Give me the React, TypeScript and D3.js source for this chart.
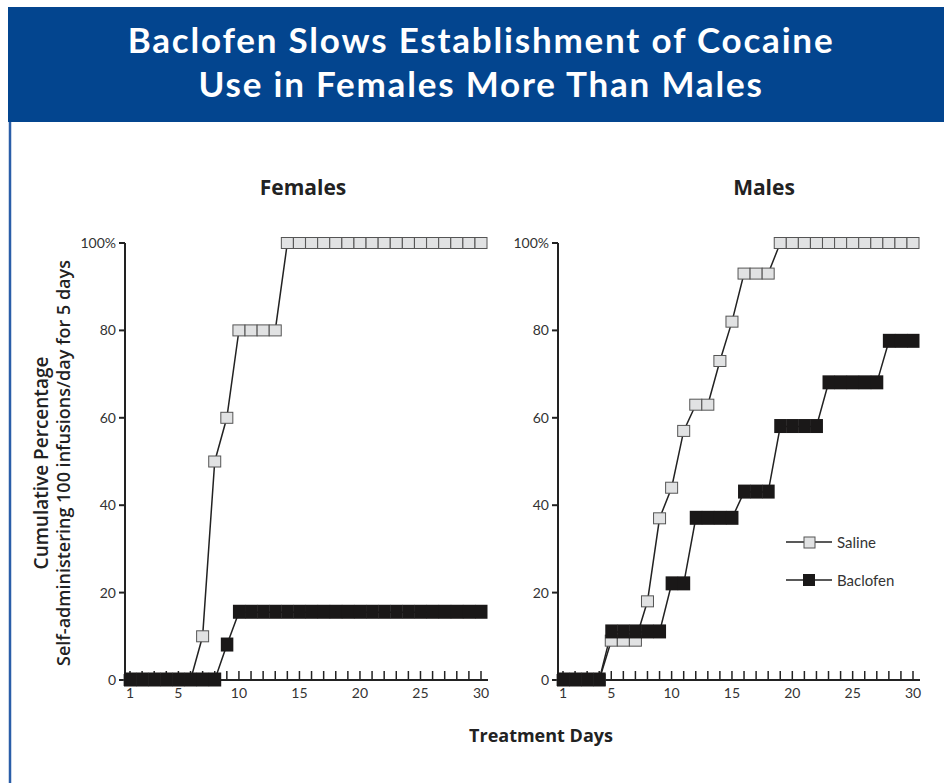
import React from "react";
import * as d3 from "d3";

const days = d3.range(1, 31);
const yTicks = [0, 20, 40, 60, 80, 100];
const yTickLabels = ["0", "20", "40", "60", "80", "100%"];
const xTickLabels = [1, 5, 10, 15, 20, 25, 30];

const femaleSaline = [0, 0, 0, 0, 0, 0, 10, 50, 60, 80, 80, 80, 80, 100, 100, 100, 100, 100, 100, 100, 100, 100, 100, 100, 100, 100, 100, 100, 100, 100];
const femaleBaclofen = [0, 0, 0, 0, 0, 0, 0, 0, 8, 15.5, 15.5, 15.5, 15.5, 15.5, 15.5, 15.5, 15.5, 15.5, 15.5, 15.5, 15.5, 15.5, 15.5, 15.5, 15.5, 15.5, 15.5, 15.5, 15.5, 15.5];
const maleSaline = [0, 0, 0, 0, 9, 9, 9, 18, 37, 44, 57, 63, 63, 73, 82, 93, 93, 93, 100, 100, 100, 100, 100, 100, 100, 100, 100, 100, 100, 100];
const maleBaclofen = [0, 0, 0, 0, 11, 11, 11, 11, 11, 22, 22, 37, 37, 37, 37, 43, 43, 43, 58, 58, 58, 58, 68, 68, 68, 68, 68, 77.5, 77.5, 77.5];

const FONT = "Lato, 'Open Sans', sans-serif";
const FONT2 = "'Open Sans', Lato, sans-serif";
const yScale = d3.scaleLinear().domain([0, 100]).range([680, 243]);

type PanelProps = { title: string; titleX: number; x0: number; x1: number; saline: number[]; baclofen: number[]; legend?: boolean };

function Panel({ title, titleX, x0, x1, saline, baclofen, legend }: PanelProps) {
  const x = d3.scaleLinear().domain([1, 30]).range([x0, x1]);
  const axisX = x0 - 5;
  const line = d3.line<number>().x((_, i) => x(days[i])).y((v) => yScale(v));
  const sq = 12;
  const sh = 11;
  const salineFill = "#e1e2e3";
  const dark = "#1a1818";
  return (
    <g>
      <text x={titleX} y={195} textAnchor="middle" fontFamily={FONT2} fontWeight={700} fontSize={21} fill="#222">{title}</text>
      <line x1={axisX} x2={axisX} y1={yScale(100)} y2={yScale(0) + 1} stroke="#222" strokeWidth={2} />
      {yTicks.map((t, i) => (
        <g key={t}>
          <line x1={axisX - 6} x2={axisX} y1={yScale(t)} y2={yScale(t)} stroke="#222" strokeWidth={2} />
          <text x={axisX - 9} y={yScale(t) + 5} textAnchor="end" fontFamily={FONT} fontSize={14} fill="#333">{yTickLabels[i]}</text>
        </g>
      ))}
      <line x1={axisX} x2={x1 + 7} y1={yScale(0)} y2={yScale(0)} stroke="#222" strokeWidth={2} />
      {days.map((d) => (
        <line key={d} x1={x(d)} x2={x(d)} y1={yScale(0)} y2={yScale(0) - 9} stroke="#222" strokeWidth={1.5} />
      ))}
      {xTickLabels.map((d) => (
        <text key={d} x={x(d)} y={698} textAnchor="middle" fontFamily={FONT} fontSize={14} fill="#333">{d}</text>
      ))}
      <path d={line(saline) || ""} fill="none" stroke="#222" strokeWidth={1.5} />
      <path d={line(baclofen) || ""} fill="none" stroke="#222" strokeWidth={1.5} />
      {saline.map((v, i) => (
        <rect key={"s" + i} x={x(days[i]) - sq / 2} y={yScale(v) - sh / 2} width={sq} height={sh} fill={salineFill} stroke="#555" strokeWidth={1} />
      ))}
      {baclofen.map((v, i) => (
        <rect key={"b" + i} x={x(days[i]) - sq / 2} y={yScale(v) - sh / 2 - 2} width={sq + 0.5} height={sh + 3} fill={dark} stroke="none" />
      ))}
      {legend && (
        <g>
          <line x1={786} x2={832} y1={542} y2={542} stroke="#222" strokeWidth={1.5} />
          <rect x={804} y={537} width={11} height={11} fill={salineFill} stroke="#555" strokeWidth={1} />
          <text x={837} y={548} fontFamily={FONT} fontSize={15} fill="#333">Saline</text>
          <line x1={786} x2={832} y1={580} y2={580} stroke="#222" strokeWidth={1.5} />
          <rect x={803} y={574} width={12} height={12} fill={dark} />
          <text x={837} y={586} fontFamily={FONT} fontSize={15} fill="#333">Baclofen</text>
        </g>
      )}
    </g>
  );
}

export default function App() {
  return (
    <div style={{ position: "absolute", left: 0, top: 0 }}>
      <svg width={944} height={783} style={{ display: "block", background: "#fff" }}>
        <rect x={8} y={7} width={936} height={115} fill="#03458f" />
        <line x1={10} x2={10} y1={122} y2={783} stroke="#2a5ea8" strokeWidth={2.5} />
        <text x={481} y={53} textAnchor="middle" fontFamily={FONT} fontWeight={700} fontSize={35} letterSpacing={1.8} fill="#fff">Baclofen Slows Establishment of Cocaine</text>
        <text x={481} y={97} textAnchor="middle" fontFamily={FONT} fontWeight={700} fontSize={35} letterSpacing={1.8} fill="#fff">Use in Females More Than Males</text>
        <g transform="translate(42,463) rotate(-90)">
          <text x={0} y={6} textAnchor="middle" fontFamily={FONT2} fontWeight={600} fontSize={19} fill="#222">Cumulative Percentage</text>
          <text x={0} y={28} textAnchor="middle" fontFamily={FONT2} fontWeight={600} fontSize={18} fill="#222">Self-administering 100 infusions/day for 5 days</text>
        </g>
        <Panel title="Females" titleX={303} x0={130} x1={481} saline={femaleSaline} baclofen={femaleBaclofen} />
        <Panel title="Males" titleX={764} x0={563} x1={913} saline={maleSaline} baclofen={maleBaclofen} legend />
        <text x={541} y={742} textAnchor="middle" fontFamily={FONT2} fontWeight={700} fontSize={18} fill="#222">Treatment Days</text>
      </svg>
    </div>
  );
}
